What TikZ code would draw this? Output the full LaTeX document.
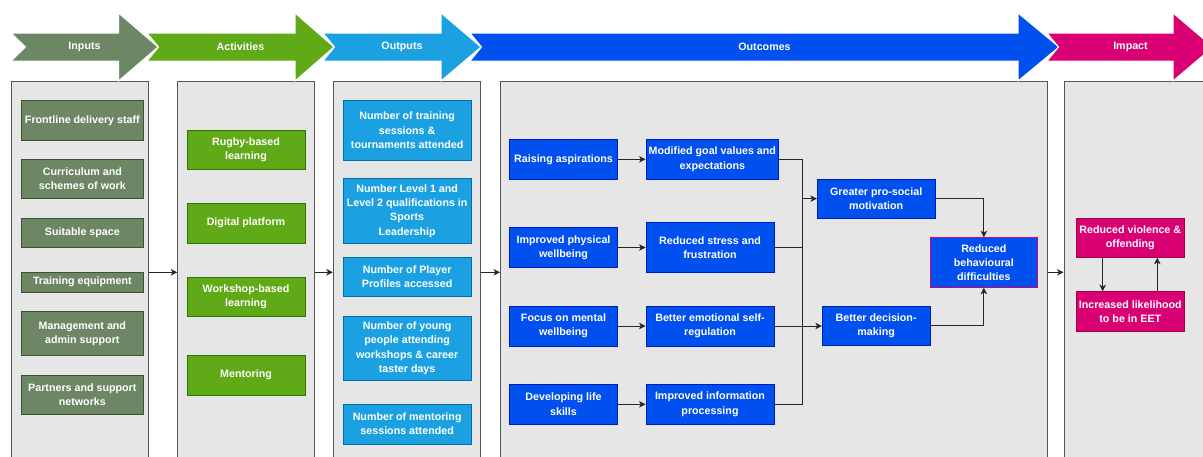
\documentclass[tikz,border=0pt]{standalone}
\usepackage{fontspec}
\setmainfont{Liberation Sans}
\usetikzlibrary{arrows.meta,calc}
\definecolor{inF}{HTML}{6D8764}\definecolor{inS}{HTML}{3A5431}
\definecolor{acF}{HTML}{60A917}\definecolor{acS}{HTML}{2D7600}
\definecolor{ouF}{HTML}{1BA1E2}\definecolor{ouS}{HTML}{006EAF}
\definecolor{ocF}{HTML}{0050EF}\definecolor{ocS}{HTML}{001DBC}
\definecolor{imF}{HTML}{D80073}\definecolor{imS}{HTML}{A50040}
\definecolor{colF}{HTML}{E6E6E6}\definecolor{colS}{HTML}{555555}
\begin{document}
\begin{tikzpicture}[x=1pt,y=-1pt,
  txt/.style={font=\fontsize{10.7}{14.3}\selectfont\bfseries},
  col/.style={draw=colS, fill=colF, line width=0.9pt, inner sep=0pt},
  box/.style={draw, line width=0.9pt, text=white, inner sep=1pt, align=center, txt},
  inbox/.style={box, fill=inF, draw=inS, minimum width=122.7},
  acbox/.style={box, fill=acF, draw=acS, minimum width=118, minimum height=39.7},
  oubox/.style={box, fill=ouF, draw=ouS, minimum width=127.7},
  ocbox/.style={box, fill=ocF, draw=ocS},
  imbox/.style={box, fill=imF, draw=imS, minimum width=108},
  phase/.style={draw=white, line width=1pt, line join=miter},
  plabel/.style={text=white, txt, inner sep=0pt},
  link/.style={draw=black!85, line width=0.8pt},
  conn/.style={link, -{Stealth[length=6.5pt,width=6.5pt,inset=1.8pt]}}
]
\useasboundingbox (0,0) rectangle (1203,456);
\clip (0,0) rectangle (1203,456);

% columns
\node[col, minimum width=136.8, minimum height=400] (colIn) at (79.9,281) {};
\node[col, minimum width=136.6, minimum height=400] (colAc) at (246,281) {};
\node[col, minimum width=147.4, minimum height=400] (colOu) at (407,281) {};
\node[col, minimum width=546.8, minimum height=400] (colOc) at (773.9,281) {};
\node[col, minimum width=156, minimum height=400] (colIm) at (1142,281) {};

% phase arrows
\fill[inF, phase] (11,33) -- (118.5,33) -- (118.5,13) -- (158,47) -- (118.5,81) -- (118.5,61) -- (11,61) -- (25.5,47) -- cycle;
\fill[acF, phase] (147,33) -- (295,33) -- (295,13) -- (334,47) -- (295,81) -- (295,61) -- (147,61) -- (158.5,47) -- cycle;
\fill[ouF, phase] (323,33) -- (441,33) -- (441,13) -- (481,47) -- (441,81) -- (441,61) -- (323,61) -- (334.5,47) -- cycle;
\fill[ocF, phase] (470,33) -- (1018,33) -- (1018,13) -- (1059,47) -- (1018,81) -- (1018,61) -- (470,61) -- (481.5,47) -- cycle;
\fill[imF, phase] (1047,33) -- (1173,33) -- (1173,13) -- (1213,47) -- (1173,81) -- (1173,61) -- (1047,61) -- (1058.5,47) -- cycle;
\node[plabel] (pIn) at (84.5,46.5) {Inputs};
\node[plabel] (pAc) at (240.5,46.5) {Activities};
\node[plabel] (pOu) at (402,46.5) {Outputs};
\node[plabel] (pOc) at (764.5,46.5) {Outcomes};
\node[plabel] (pIm) at (1130.5,46.5) {Impact};

% inputs
\node[inbox, minimum height=39.3] (in1) at (82.35,120.35) {Frontline delivery staff};
\node[inbox, minimum height=39.4] (in2) at (82.35,179) {Curriculum and\\schemes of work};
\node[inbox, minimum height=29.4] (in3) at (82.35,233) {Suitable space};
\node[inbox, minimum height=19.7] (in4) at (82.35,282.15) {Training equipment};
\node[inbox, minimum height=44.4] (in5) at (82.35,333.5) {Management and\\admin support};
\node[inbox, minimum height=39.3] (in6) at (82.35,394.65) {Partners and support\\networks};

% activities
\node[acbox] (ac1) at (246,149.85) {Rugby-based\\learning};
\node[acbox] (ac2) at (246,223.15) {Digital platform};
\node[acbox] (ac3) at (246,296.85) {Workshop-based\\learning};
\node[acbox] (ac4) at (246,375.15) {Mentoring};

% outputs
\node[oubox, minimum height=59.3] (ou1) at (407.15,130.35) {Number of training\\sessions \&\\tournaments attended};
\node[oubox, minimum height=64.6] (ou2) at (407.15,211) {Number Level 1 and\\Level 2 qualifications in\\Sports\\Leadership};
\node[oubox, minimum height=39.4] (ou3) at (407.15,277) {Number of Player\\Profiles accessed};
\node[oubox, minimum height=64.7] (ou4) at (407.15,348.35) {Number of young\\people attending\\workshops \& career\\taster days};
\node[oubox, minimum height=40] (ou5) at (407.15,424) {Number of mentoring\\sessions attended};

% outcomes
\node[ocbox, minimum width=108.4, minimum height=40] (oc1) at (563.5,159.3) {Raising aspirations};
\node[ocbox, minimum width=108.4, minimum height=39.6] (oc2) at (563.5,247.5) {Improved physical\\wellbeing};
\node[ocbox, minimum width=108.4, minimum height=40] (oc3) at (563.5,326) {Focus on mental\\wellbeing};
\node[ocbox, minimum width=108.4, minimum height=40] (oc4) at (563.5,404.3) {Developing life\\skills};
\node[ocbox, minimum width=132.7, minimum height=40] (od1) at (712.35,159.3) {Modified goal values and\\expectations};
\node[ocbox, minimum width=128, minimum height=50] (od2) at (710,247.7) {Reduced stress and\\frustration};
\node[ocbox, minimum width=128, minimum height=40] (od3) at (710,326) {Better emotional self-\\regulation};
\node[ocbox, minimum width=128, minimum height=40] (od4) at (710,404.3) {Improved information\\processing};
\node[ocbox, minimum width=117.7, minimum height=39.3] (og) at (876.15,198.65) {Greater pro-social\\motivation};
\node[ocbox, minimum width=107.7, minimum height=39.7] (ob) at (876.15,325.85) {Better decision-\\making};
\node[ocbox, draw=imF, minimum width=107.7, minimum height=49.6] (orb) at (983.85,262.5) {Reduced\\behavioural\\difficulties};

% impact
\node[imbox, minimum height=39] (im1) at (1130.3,237.8) {Reduced violence \&\\offending};
\node[imbox, minimum height=39.3] (im2) at (1130.3,311.35) {Increased likelihood\\to be in EET};

% column connectors
\coordinate (ar) at (0,272.3);
\draw[conn] (colIn.east |- ar) -- (colAc.west |- ar);
\draw[conn] (colAc.east |- ar) -- (colOu.west |- ar);
\draw[conn] (colOu.east |- ar) -- (colOc.west |- ar);
\draw[conn] (colOc.east |- ar) -- (colIm.west |- ar);

% outcome connectors
\draw[conn] (oc1.east) -- (od1.west);
\draw[conn] (oc2.east) -- (oc2.east -| od2.west);
\draw[conn] (oc3.east) -- (od3.west);
\draw[conn] (oc4.east) -- (od4.west);
\coordinate (busx) at (802.7,0);
\draw[link] (od1.east) -- (od1.east -| busx);
\draw[link] (od2.east) -- (od2.east -| busx);
\draw[link] (od4.east) -- (od4.east -| busx);
\draw[link] (busx |- od1.east) -- (busx |- od4.east);
\draw[conn] (busx |- og.west) -- (og.west);
\draw[conn] (od3.east) -- (od3.east -| ob.west);
\draw[conn] (og.east) -| (orb.north);
\draw[conn] (ob.east) -| (orb.south);

% impact connectors
\coordinate (ia) at (1102.7,0);
\coordinate (ib) at (1157.3,0);
\draw[conn] (ia |- im1.south) -- (ia |- im2.north);
\draw[conn] (ib |- im2.north) -- (ib |- im1.south);
\end{tikzpicture}
\end{document}
